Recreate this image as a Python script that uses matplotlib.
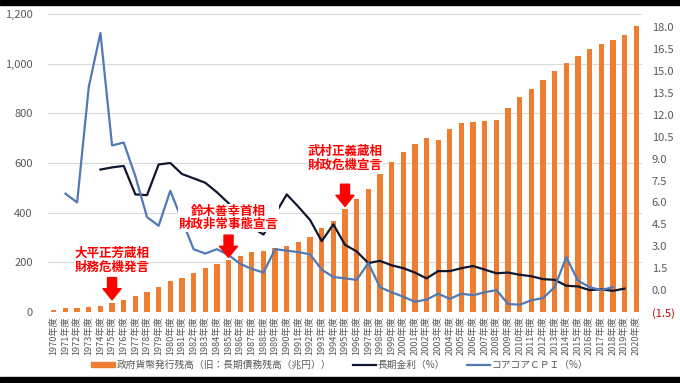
"""
政府債務残高・長期金利・コアコアCPIの推移（1970〜2020年度）
"""

import numpy as np
import matplotlib.pyplot as plt
from matplotlib.patches import Patch, Rectangle
from matplotlib.lines import Line2D
from matplotlib.ticker import FuncFormatter

plt.rcParams['font.family'] = ['Noto Sans CJK JP', 'DejaVu Sans']

years = list(range(1970, 2021))
year_labels = [f'{y}年度' for y in years]

# 長期債務残高（兆円）
debt = [10, 15, 17, 20, 24, 37, 50, 64, 82, 102,
        123, 137, 157, 177, 193, 208, 227, 240, 247, 258,
        267, 281, 303, 337, 368, 413, 454, 494, 556, 603,
        646, 677, 699, 693, 737, 762, 764, 769, 773, 820,
        864, 897, 933, 972, 1003, 1032, 1061, 1079, 1097, 1117,
        1153]

# 長期金利（%）: 1974〜2019年度
rate = [None, None, None, None, 8.25, 8.4, 8.5, 6.55, 6.5, 8.6,
        8.7, 7.95, 7.65, 7.35, 6.7, 5.95, 5.0, 4.3, 3.8, 5.2,
        6.55, 5.7, 4.8, 3.35, 4.5, 3.1, 2.65, 1.85, 2.0, 1.7,
        1.5, 1.2, 0.8, 1.3, 1.3, 1.5, 1.65, 1.4, 1.15, 1.2,
        1.05, 0.95, 0.75, 0.7, 0.3, 0.25, 0.0, 0.05, -0.05, 0.1,
        None]

# コアコアCPI（%）: 1971〜2018年度
cpi = [None, 6.6, 6.0, 13.9, 17.6, 9.9, 10.1, 7.8, 5.0, 4.4,
       6.8, 4.8, 2.8, 2.5, 2.8, 2.4, 1.8, 1.45, 1.2, 2.8,
       2.7, 2.6, 2.45, 1.4, 0.9, 0.8, 0.7, 1.85, 0.2, -0.15,
       -0.45, -0.8, -0.65, -0.25, -0.6, -0.25, -0.35, -0.15, 0.0, -0.95,
       -1.0, -0.7, -0.55, 0.2, 2.25, 0.65, 0.2, 0.0, 0.2, None,
       None]

# 注記（年度, テキスト, 矢印の上の余白pt）
notes = [(1975, '大平正芳蔵相\n財務危機発言', 3),
         (1985, '鈴木善幸首相\n財政非常事態宣言', 3),
         (1995, '武村正義蔵相\n財政危機宣言', 9)]

ORANGE = '#ED7D31'
NAVY = '#101830'
BLUE = '#4F7AB5'
GRAY = '#595959'

x = np.arange(len(years))
rate_arr = np.array([np.nan if v is None else v for v in rate])
cpi_arr = np.array([np.nan if v is None else v for v in cpi])

fig = plt.figure(figsize=(6.8, 3.83), dpi=100)
ax = fig.add_axes([48 / 680, 71 / 383, 594 / 680, 298 / 383])
ax2 = ax.twinx()

ax.bar(x, debt, width=0.45, color=ORANGE, zorder=2)
ax.set_xlim(-0.5, len(years) - 0.5)
ax.set_ylim(0, 1200)
ax.set_yticks(range(0, 1201, 200))
ax.yaxis.set_major_formatter(FuncFormatter(lambda v, p: f'{v:,.0f}'))
ax.grid(axis='y', color='#D9D9D9', linewidth=0.8, zorder=0)
ax.set_axisbelow(True)
ax.set_xticks(x)
ax.set_xticklabels(year_labels, rotation=90, fontsize=6.6, color=GRAY)
ax.tick_params(axis='x', length=0, pad=3)
ax.tick_params(axis='y', length=0, pad=11, labelsize=8, labelcolor=GRAY)

ax2.plot(x, rate_arr, color=NAVY, linewidth=1.6, zorder=3)
ax2.plot(x, cpi_arr, color=BLUE, linewidth=1.6, zorder=3)
ax2.set_ylim(-1.5, 18.9)
ax2.set_yticks(np.arange(-1.5, 18.01, 1.5))
ax2.yaxis.set_major_formatter(
    FuncFormatter(lambda v, p: f'({-v:.1f})' if v < 0 else f'{v:.1f}'))
ax2.tick_params(axis='y', length=0, pad=7, labelsize=8, labelcolor=GRAY)
for lab in ax2.get_yticklabels():
    if lab.get_text().startswith('('):
        lab.set_color('#C00000')

for a in (ax, ax2):
    for s in a.spines.values():
        s.set_visible(False)

# 注記と矢印
for yr, txt, gap in notes:
    i = years.index(yr)
    tip = debt[i] + 12
    ax2.annotate('', xy=(i, tip), xycoords=ax.transData,
                 xytext=(0, 16), textcoords='offset points',
                 arrowprops=dict(arrowstyle='simple,head_length=0.8,head_width=1.3,tail_width=0.65',
                                 color='#FF0000', mutation_scale=10, shrinkA=0, shrinkB=0),
                 zorder=5)
    ax2.annotate(txt, xy=(i, tip), xycoords=ax.transData,
                 xytext=(0, 16 + gap), textcoords='offset points',
                 ha='center', va='bottom', fontsize=9, fontweight='bold',
                 color='#FF0000', linespacing=1.05,
                 bbox=dict(facecolor='white', edgecolor='none', pad=0.5),
                 zorder=6)

handles = [Patch(color=ORANGE),
           Line2D([], [], color=NAVY, linewidth=1.6),
           Line2D([], [], color=BLUE, linewidth=1.6)]
labels = ['政府貨幣発行残高（旧：長期債務残高（兆円））', '長期金利（%）', 'コアコアＣＰＩ（%）']
fig.legend(handles, labels, loc='center', bbox_to_anchor=(0.5, 18 / 383), ncol=3,
           frameon=False, fontsize=7, labelcolor=GRAY, handlelength=2.4,
           handleheight=0.5, columnspacing=2.2, handletextpad=0.2)

# 上下の黒帯
fig.patches.append(Rectangle((0, 1 - 5 / 383), 1, 5 / 383, transform=fig.transFigure,
                             color='black', zorder=10))
fig.patches.append(Rectangle((0, 0), 1, 6 / 383, transform=fig.transFigure,
                             color='black', zorder=10))

plt.savefig('out.png', dpi=100)
